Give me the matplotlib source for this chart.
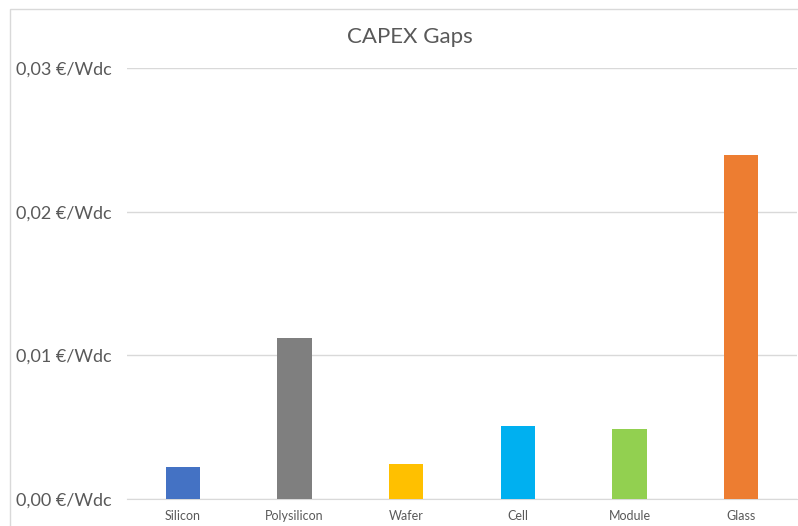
import matplotlib
matplotlib.use("Agg")
import matplotlib.pyplot as plt
from matplotlib.patches import Rectangle
from matplotlib.ticker import FuncFormatter

# Data
categories = ["Silicon", "Polysilicon", "Wafer", "Cell", "Module", "Glass"]
gaps = [0.00222, 0.01118, 0.00243, 0.00507, 0.00486, 0.02396]
colors = ["#4472C4", "#7F7F7F", "#FFC000", "#00B0F0", "#92D050", "#ED7D31"]
yticks = [0.0, 0.01, 0.02, 0.03]

plt.rcParams['font.family'] = ['Lato', 'DejaVu Sans']

W, H = 798, 526
fig = plt.figure(figsize=(W / 100, H / 100), dpi=100)

# chart frame (cropped at right and bottom)
fig.patches.append(Rectangle((10 / W, -0.1), 2, 1.1 - 9 / H, transform=fig.transFigure,
                             fill=False, edgecolor="#D9D9D9", linewidth=1))

ax = fig.add_axes([127 / W, 1 - 499 / H, (797 - 127) / W, (499 - 68) / H])

x = range(len(categories))
ax.bar(x, gaps, width=0.31, color=colors, zorder=3)

ax.set_xlim(-0.5, len(categories) - 0.5)
ax.set_ylim(0, 0.03)
ax.set_yticks(yticks)
ax.yaxis.set_major_formatter(FuncFormatter(lambda v, p: ("%.2f" % v).replace(".", ",") + " €/Wdc"))
ax.set_xticks(list(x))
ax.set_xticklabels(categories)

ax.grid(axis="y", color="#D9D9D9", linewidth=1, zorder=0)
for s in ["top", "right", "left"]:
    ax.spines[s].set_visible(False)
ax.spines["bottom"].set_color("#D9D9D9")

ax.tick_params(axis="y", length=0, labelsize=13, labelcolor="#595959", pad=17)
ax.tick_params(axis="x", length=0, labelsize=9, labelcolor="#595959", pad=8)
for lbl in ax.get_yticklabels():
    lbl.set_horizontalalignment("left")
    lbl.set_x(-(127 - 16) / (797 - 127))
ax.yaxis.set_tick_params(pad=0)
for t in ax.yaxis.get_major_ticks():
    t.label1.set_horizontalalignment("left")

fig.text(410 / W, 1 - 37 / H, "CAPEX Gaps", ha="center", va="center", fontsize=16, color="#595959")

fig.savefig("out.png", dpi=100)
